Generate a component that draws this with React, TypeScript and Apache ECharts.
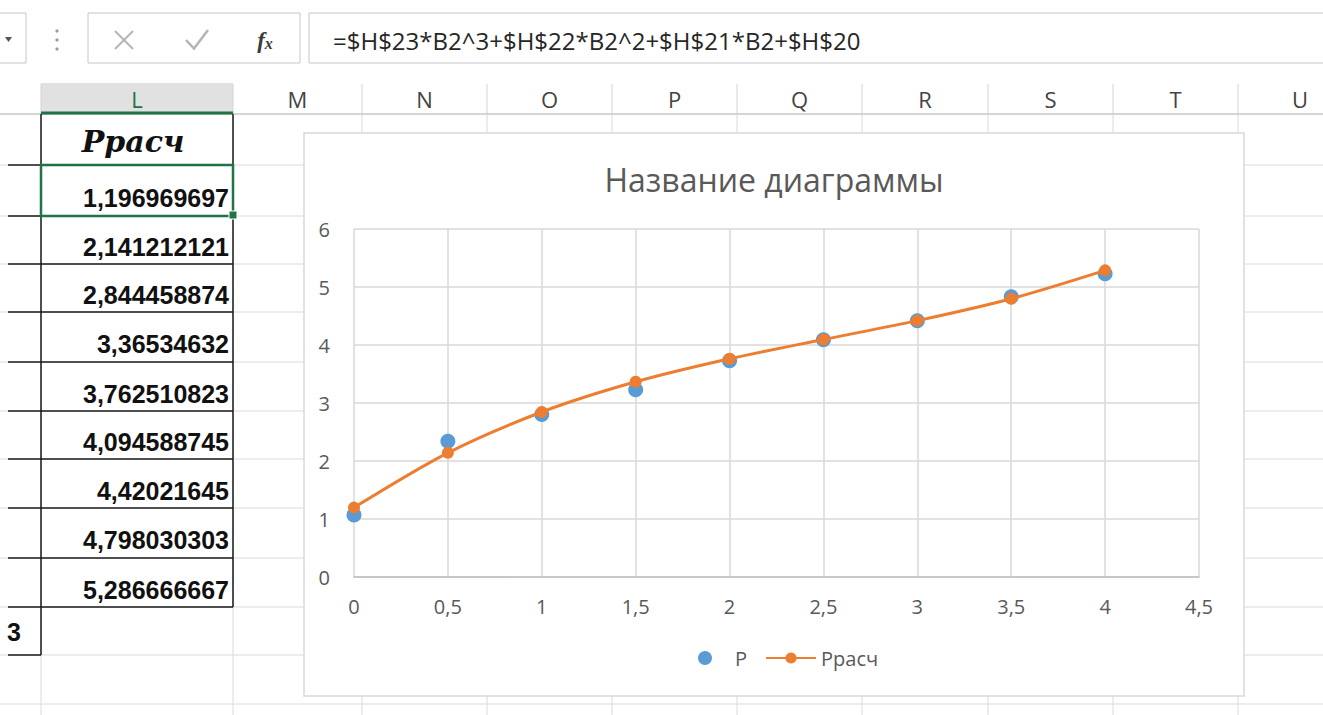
import React, { useEffect, useRef } from "react";
import * as echarts from "echarts";

// ---- data ----
const xValues = [0, 0.5, 1, 1.5, 2, 2.5, 3, 3.5, 4];
const pValues = [1.07, 2.34, 2.8, 3.23, 3.73, 4.09, 4.42, 4.83, 5.23];
const pCalcValues = [
  1.196969697, 2.141212121, 2.844458874, 3.36534632, 3.762510823,
  4.094588745, 4.42021645, 4.798030303, 5.286666667,
];
const seriesNames = ["Р", "Ррасч"];
const chartTitle = "Название диаграммы";
const tableHeader = "Ррасч";
const columnLetters = ["L", "M", "N", "O", "P", "Q", "R", "S", "T", "U"];
const formulaText = "=$H$23*B2^3+$H$22*B2^2+$H$21*B2+$H$20";
const leftCellText = "3";

// ---- layout (positions only) ----
const W = 1323;
const H = 715;
const colBounds = [41, 233, 362, 487, 612, 737, 862, 988, 1113, 1238, 1362];
const rowBounds = [114, 165, 216, 264, 312, 362, 411, 459, 508, 558, 607, 655, 704];
const GREEN = "#217346";
const GRID_GRAY = "#dadada";
const FONT = "'Open Sans', 'Noto Sans', sans-serif";

const fmtComma = (v: number) => String(v).replace(".", ",");

function buildGraphic() {
  const els: any[] = [];
  const Z = -20;
  const line = (x1: number, y1: number, x2: number, y2: number, stroke: string, lw = 1, z = Z) =>
    els.push({ type: "line", z, shape: { x1, y1, x2, y2 }, style: { stroke, lineWidth: lw } });

  // formula bar
  els.push({ type: "rect", z: Z, shape: { x: -10, y: 13, width: 36, height: 50 }, style: { fill: "#fff", stroke: "#c6c6c6", lineWidth: 1 } });
  els.push({ type: "polygon", z: Z, shape: { points: [[5, 37], [12, 37], [8.5, 42]] }, style: { fill: "#555" } });
  [31, 40, 49].forEach((cy) => els.push({ type: "circle", z: Z, shape: { cx: 57, cy, r: 1.6 }, style: { fill: "#9a9a9a" } }));
  els.push({ type: "rect", z: Z, shape: { x: 88, y: 13, width: 212, height: 50 }, style: { fill: "#fff", stroke: "#c6c6c6", lineWidth: 1 } });
  line(115, 31, 133, 49, "#b5b5b5", 2);
  line(133, 31, 115, 49, "#b5b5b5", 2);
  els.push({ type: "polyline", z: Z, shape: { points: [[186, 40], [194, 48.5], [208, 30]] }, style: { stroke: "#b5b5b5", lineWidth: 2.5, fill: null } });
  els.push({
    type: "text", z: Z, x: 265, y: 40,
    style: {
      text: "{f|f}{x|x}", align: "center", verticalAlign: "middle",
      rich: {
        f: { fontFamily: "'Liberation Serif', serif", fontStyle: "italic", fontWeight: "bold", fontSize: 23, fill: "#3a3a3a" },
        x: { fontFamily: "'Liberation Serif', serif", fontStyle: "italic", fontWeight: "bold", fontSize: 16, fill: "#3a3a3a", padding: [6, 0, 0, 0] },
      },
    },
  });
  els.push({ type: "rect", z: Z, shape: { x: 309, y: 13, width: 1040, height: 50 }, style: { fill: "#fff", stroke: "#c6c6c6", lineWidth: 1 } });
  els.push({
    type: "text", z: Z, x: 333, y: 40,
    style: { text: formulaText, fontFamily: FONT, fontSize: 24, fill: "#262626", align: "left", verticalAlign: "middle" },
  });

  // column header row
  els.push({ type: "rect", z: Z, shape: { x: 41, y: 83, width: 192, height: 31 }, style: { fill: "#e1e1e1" } });
  colBounds.forEach((x) => line(x, 84, x, 114, "#d4d4d4"));
  line(0, 114, W, 114, "#ababab");
  line(41, 113, 233, 113, GREEN, 3);
  columnLetters.forEach((c, i) => {
    const cx = (colBounds[i] + colBounds[i + 1]) / 2;
    els.push({
      type: "text", z: Z, x: cx, y: 99,
      style: { text: c, fontFamily: FONT, fontSize: 22, fill: i === 0 ? GREEN : "#444", align: "center", verticalAlign: "middle" },
    });
  });

  // grid lines
  rowBounds.slice(1).forEach((y) => line(0, y, W, y, GRID_GRAY));
  colBounds.forEach((x) => line(x, 114, x, H, GRID_GRAY));

  // black cell borders
  line(41, 114, 41, 655, "#1a1a1a", 1.5);
  line(233, 114, 233, 607, "#1a1a1a", 1.5);
  rowBounds.slice(1, 11).forEach((y) => line(8, y, 233, y, "#1a1a1a", 1.5));
  line(8, 655, 41, 655, "#1a1a1a", 1.5);

  // table texts
  els.push({
    type: "text", z: Z, x: 133, y: 141,
    style: { text: tableHeader, fontFamily: "'DejaVu Serif', 'Liberation Serif', serif", fontStyle: "italic", fontWeight: "bold", fontSize: 30, fill: "#111", align: "center", verticalAlign: "middle" },
  });
  pCalcValues.forEach((v, i) => {
    const top = rowBounds[i + 1];
    const bot = rowBounds[i + 2];
    els.push({
      type: "text", z: Z, x: 229, y: (top + bot) / 2 + 7,
      style: { text: fmtComma(v), fontFamily: "'Liberation Sans', Arial, sans-serif", fontWeight: "bold", fontSize: 25, fill: "#111", align: "right", verticalAlign: "middle" },
    });
  });
  els.push({
    type: "text", z: Z, x: 21, y: 632,
    style: { text: leftCellText, fontFamily: "'Liberation Sans', Arial, sans-serif", fontWeight: "bold", fontSize: 25, fill: "#111", align: "right", verticalAlign: "middle" },
  });

  // selected cell
  els.push({ type: "rect", z: Z + 1, shape: { x: 41, y: 165, width: 192, height: 51 }, style: { fill: null, stroke: GREEN, lineWidth: 2.5 } });
  els.push({ type: "rect", z: Z + 2, shape: { x: 229, y: 211, width: 8, height: 8 }, style: { fill: GREEN, stroke: "#fff", lineWidth: 1 } });

  // chart area
  els.push({ type: "rect", z: -5, shape: { x: 304, y: 133, width: 940, height: 563 }, style: { fill: "#fff", stroke: "#d9d9d9", lineWidth: 1.5 } });
  return els;
}

export default function App() {
  const ref = useRef<HTMLDivElement>(null);
  useEffect(() => {
    document.body.style.margin = "0";
    document.body.style.background = "#fff";
    if (!ref.current) return;
    const chart = echarts.init(ref.current, undefined, { renderer: "svg" });
    chart.setOption({
      animation: false,
      backgroundColor: "#fff",
      graphic: { elements: buildGraphic() },
      title: {
        text: chartTitle,
        left: 769,
        top: 158,
        textAlign: "center",
        textStyle: { fontFamily: FONT, fontSize: 32, fontWeight: "normal", color: "#595959" },
      },
      legend: {
        left: 693,
        top: 643,
        itemWidth: 50,
        itemHeight: 14,
        itemGap: 18,
        data: [{ name: seriesNames[0], icon: "circle" }, { name: seriesNames[1] }],
        textStyle: { fontFamily: FONT, fontSize: 20, color: "#595959" },
      },
      grid: { left: 354, top: 229, width: 845, height: 348 },
      xAxis: {
        type: "value",
        min: 0,
        max: 4.5,
        interval: 0.5,
        axisLine: { show: true, lineStyle: { color: "#bfbfbf", width: 1.5 } },
        axisTick: { show: false },
        splitLine: { show: true, lineStyle: { color: "#d9d9d9", width: 1.5 } },
        axisLabel: { formatter: (v: number) => fmtComma(v), color: "#595959", fontSize: 20, margin: 19, fontFamily: FONT },
      },
      yAxis: {
        type: "value",
        min: 0,
        max: 6,
        interval: 1,
        axisLine: { show: false },
        axisTick: { show: false },
        splitLine: { show: true, lineStyle: { color: "#d9d9d9", width: 1.5 } },
        axisLabel: { color: "#595959", fontSize: 20, margin: 24, fontFamily: FONT },
      },
      series: [
        {
          name: seriesNames[0],
          type: "scatter",
          data: xValues.map((x, i) => [x, pValues[i]]),
          symbol: "circle",
          symbolSize: 15,
          itemStyle: { color: "#5b9bd5", opacity: 1 },
          z: 2,
        },
        {
          name: seriesNames[1],
          type: "line",
          data: xValues.map((x, i) => [x, pCalcValues[i]]),
          smooth: 0.3,
          symbol: "circle",
          symbolSize: 12,
          lineStyle: { color: "#ed7d31", width: 3 },
          itemStyle: { color: "#ed7d31" },
          z: 3,
        },
      ],
    });
    return () => chart.dispose();
  }, []);
  return <div ref={ref} style={{ position: "absolute", left: 0, top: 0, width: W, height: H }} />;
}
